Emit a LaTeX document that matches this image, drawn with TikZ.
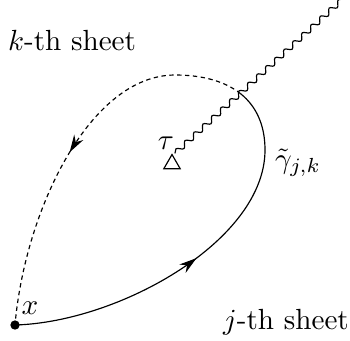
\documentclass[tikz,border=0pt]{standalone}
\usepackage{amsmath}
\usetikzlibrary{arrows.meta,decorations.pathmorphing,decorations.markings,shapes.geometric}

\begin{document}
\begin{tikzpicture}[x=.343pt,y=.343pt,line width=.4pt,
  midarrow/.style={postaction={decorate,decoration={markings,mark=at position #1 with {\arrow{Stealth[length=6pt,width=3.6pt]}}}}},
  wavy/.style={decorate,decoration={snake,amplitude=.9pt,segment length=4.2pt}}]
\useasboundingbox (0,0) rectangle (350,340);
\coordinate (r) at (265,190);\coordinate (s) at (240.6,246.3);\coordinate (t) at (175,265);\coordinate (e) at (344,342);
\node[circle,fill,inner sep=0pt,minimum size=3.2pt] (x) at (15,15) {};
\node[draw,regular polygon,regular polygon sides=3,minimum size=6.5pt,inner sep=0pt] (tau) at (172,176) {};
\draw[midarrow=.5] (x.center) .. controls (120,18) and (265,100) .. (r) .. controls (265,215) and (256.25,233.75) .. (s);
\draw[dash pattern=on 1.5pt off 1.2pt,midarrow=.53] (s) .. controls (225,258.75) and (202.5,265) .. (t) .. controls (90,265) and (25,130) .. (x.center);
\draw[wavy] ([xshift=1pt]tau.corner 1) -- (e);
\node (xlab) at (30,32) {$x$};\node (taulab) at (166,197) {$\tau$};
\node (gam) at (298,177) {$\tilde{\gamma}_{j,k}$};
\node (ksheet) at (72,299) {$k$-th sheet};\node (jsheet) at (286,18) {$j$-th sheet};
\end{tikzpicture}
\end{document}
